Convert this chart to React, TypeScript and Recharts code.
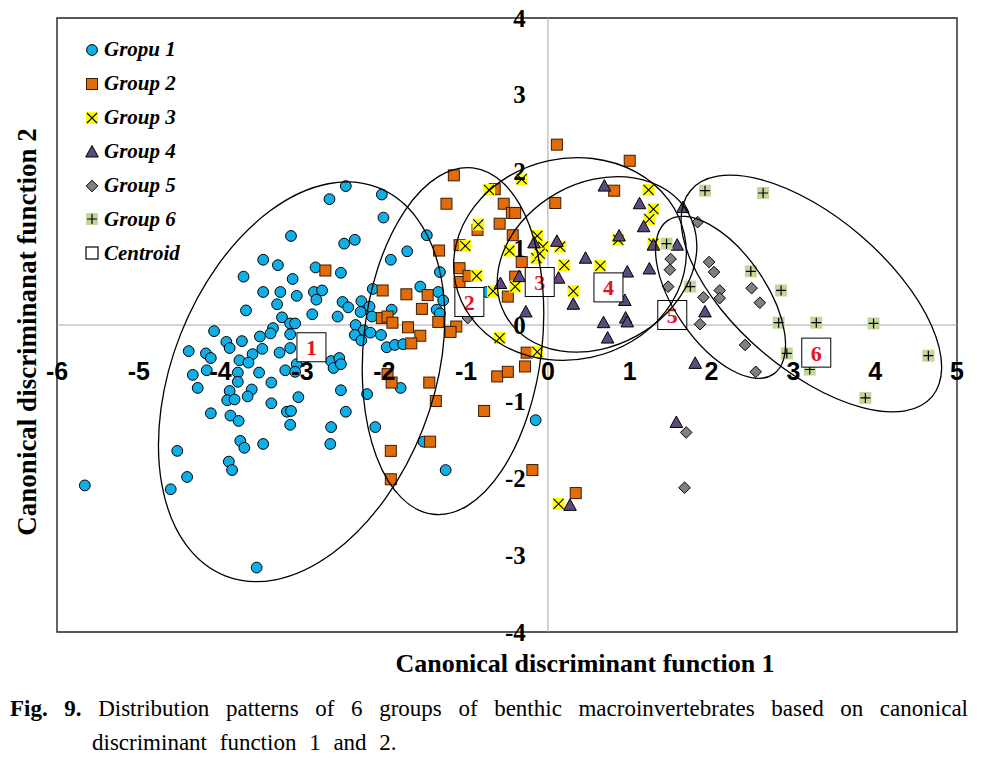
import { ScatterChart, Scatter, XAxis, YAxis, ReferenceLine, ReferenceArea } from "recharts";

// chart frame
const W = 986;
const CH = 700;
const AXIS_H = 30;
const AXIS_W = 30;
const M = { top: 18, right: 29, bottom: 68 - AXIS_H, left: 57 - AXIS_W };
const PLOT_LEFT = 57;
const PLOT_TOP = 18;
const PLOT_W = 900;
const PLOT_H = 614;
const X_MIN = -6, X_MAX = 5, Y_MIN = -4, Y_MAX = 4;
const PX_PER_X = PLOT_W / (X_MAX - X_MIN);

const xTicks = [-6, -5, -4, -3, -2, -1, 0, 1, 2, 3, 4, 5];
const yTicks = [-4, -3, -2, -1, 0, 1, 2, 3, 4];

const seriesNames = ["Gropu 1", "Group 2", "Group 3", "Group 4", "Group 5", "Group 6", "Centroid"];

// canonical scores
const group1: [number, number][] = [
  [-2.47, 1.81], [-2.67, 1.64], [-2.03, 1.70], [-2.01, 1.40], [-3.14, 1.16], [-2.49, 1.06], [-2.36, 1.11],
  [-3.48, 0.85], [-3.30, 0.78], [-2.84, 0.75], [-2.53, 0.68], [-3.72, 0.63], [-3.12, 0.60], [-3.48, 0.43],
  [-3.27, 0.43], [-3.07, 0.38], [-2.86, 0.43], [-2.76, 0.45], [-2.83, 0.33], [-3.31, 0.27], [-3.69, 0.19],
  [-2.88, 0.14], [-2.51, 0.30], [-2.44, 0.23], [-2.57, 0.11], [-2.28, 0.31], [-2.18, 0.24], [-2.29, 0.17],
  [-2.15, 0.11], [-3.25, 0.10], [-3.15, 0.02], [-3.09, 0.02], [-3.36, -0.04], [-3.39, -0.11], [-2.35, 0.00],
  [-2.25, -0.07], [-2.17, -0.10], [-2.36, -0.13], [-2.28, -0.20], [-2.04, -0.13], [-4.08, -0.08], [-3.93, -0.22],
  [-3.89, -0.30], [-3.74, -0.21], [-3.52, -0.15], [-3.15, -0.12], [-3.49, -0.31], [-3.61, -0.38], [-3.28, -0.36],
  [-3.15, -0.30], [-4.39, -0.34], [-4.18, -0.37], [-4.12, -0.43], [-3.77, -0.46], [-3.66, -0.49], [-3.07, -0.51],
  [-2.65, -0.47], [-2.55, -0.43], [-2.62, -0.56], [-2.53, -0.51], [-4.34, -0.65], [-4.28, -0.82], [-4.17, -0.59],
  [-3.79, -0.62], [-3.79, -0.74], [-3.53, -0.62], [-3.21, -0.59], [-3.09, -0.61], [-3.38, -0.75], [-2.53, -0.85],
  [-2.21, -0.90], [-3.89, -0.86], [-3.92, -0.98], [-3.83, -0.97], [-3.62, -0.84], [-3.67, -0.93], [-3.05, -0.94],
  [-3.38, -1.02], [-4.12, -1.15], [-3.88, -1.18], [-3.78, -1.25], [-3.19, -1.13], [-3.14, -1.12], [-2.47, -1.13],
  [-3.15, -1.30], [-2.65, -1.33], [-2.11, -1.33], [-2.66, -1.55], [-3.76, -1.51], [-3.71, -1.60], [-3.48, -1.55],
  [-3.90, -1.78], [-3.86, -1.89], [-4.53, -1.64], [-4.41, -1.98], [-4.61, -2.14], [-5.66, -2.09], [-3.56, -3.16],
  [-1.48, 1.17], [-1.72, 0.96], [-1.92, 0.85], [-1.32, 0.69], [-2.14, 0.47], [-1.56, 0.50], [-1.34, 0.43],
  [-1.28, 0.32], [-1.36, 0.20], [-1.32, 0.15], [-1.91, 0.20], [-1.97, -0.29], [-1.87, -0.26], [-1.77, -0.25],
  [-1.80, -0.82], [-1.52, -1.52], [-1.25, -1.89], [-0.15, -1.24], [-0.75, 0.43],
];

const group2: [number, number][] = [
  [-2.72, 0.71], [-2.02, 0.45], [-2.03, 0.09], [-1.15, 1.95], [-1.24, 1.58], [-1.33, 0.97], [-1.08, 1.04],
  [-1.73, 0.40], [-1.47, 0.39], [-1.54, 0.21], [-1.96, 0.11], [-1.90, 0.03], [-1.71, -0.03], [-1.56, -0.14],
  [-1.67, -0.24], [-1.34, 0.04], [-1.12, -0.02], [-1.19, -0.09], [-1.08, 0.74], [-1.08, 0.56], [-0.97, 0.64],
  [-0.65, 1.77], [-0.54, 1.58], [-0.44, 1.46], [-0.40, 1.46], [-0.59, 1.32], [-0.43, 1.17], [-0.32, 0.82],
  [-0.40, 0.63], [-0.49, 0.37], [0.11, 2.35], [1.00, 2.14], [0.09, 1.59], [0.81, 1.75], [-0.86, 1.24],
  [-0.26, -0.36], [-1.96, -0.64], [-1.91, -0.75], [-1.45, -0.75], [-1.37, -0.99], [-0.78, -1.12], [-0.62, -0.67],
  [-0.49, -0.61], [-0.28, -0.54], [-1.44, -1.52], [-1.92, -1.64], [-1.92, -2.01], [-0.19, -1.89], [0.34, -2.19],
];

const group3: [number, number][] = [
  [-0.72, 1.76], [-0.32, 1.90], [-0.85, 1.31], [-1.01, 1.03], [-0.87, 0.64], [-0.67, 0.44], [-0.40, 0.50],
  [-0.47, 0.97], [-0.13, 1.16], [-0.06, 1.02], [-0.14, 0.87], [-0.10, 0.93], [0.15, 1.02], [0.20, 0.78],
  [0.31, 0.44], [0.64, 0.77], [0.86, 1.11], [1.23, 1.76], [1.29, 1.51], [1.24, 1.38], [1.29, 1.06],
  [-0.59, -0.17], [-0.13, -0.35], [0.13, -2.33],
];

const group4: [number, number][] = [
  [0.69, 1.81], [1.12, 1.58], [1.17, 1.28], [0.87, 1.16], [1.29, 1.04], [1.58, 1.04], [1.65, 1.53],
  [0.46, 0.87], [1.24, 0.73], [0.97, 0.69], [0.94, 0.32], [0.95, 0.09], [0.97, 0.04], [0.68, 0.03],
  [0.73, -0.17], [0.31, 0.27], [0.13, 0.61], [0.11, 1.09], [-0.17, 1.07], [-0.35, 0.63], [-0.58, 0.54],
  [-0.27, 0.17], [1.92, 0.17], [1.80, -0.50], [1.57, -1.27], [0.27, -2.35],
];

const group5: [number, number][] = [
  [1.83, 1.34], [1.50, 0.86], [1.49, 0.72], [1.47, 0.50], [1.97, 0.82], [2.03, 0.69], [1.90, 0.36],
  [2.10, 0.45], [2.10, 0.35], [1.86, 0.01], [2.49, 0.48], [2.59, 0.29], [2.41, -0.26], [2.54, -0.61],
  [1.69, -1.40], [1.67, -2.12], [-0.98, 0.09],
];

const group6: [number, number][] = [
  [1.92, 1.75], [2.63, 1.72], [1.45, 1.06], [1.74, 0.50], [2.48, 0.70], [2.85, 0.45], [2.82, 0.03],
  [3.28, 0.03], [3.98, 0.02], [2.92, -0.37], [3.20, -0.58], [4.65, -0.40], [3.88, -0.95],
];

const centroidLabels = ["1", "2", "3", "4", "5", "6"];
const centroidX = [-2.89, -0.96, -0.10, 0.74, 1.52, 3.28];
const centroidY = [-0.29, 0.30, 0.56, 0.49, 0.13, -0.36];

// group ellipses: centre, half-axes (in x units), rotation in degrees
const ellipseX = [-3.01, -1.16, 0.27, 0.60, 2.11, 3.22];
const ellipseY = [-0.74, -0.21, 0.86, 0.79, 0.36, 0.41];
const ellipseRx = [1.59, 1.09, 1.43, 1.28, 0.56, 1.94];
const ellipseRy = [2.55, 2.13, 1.23, 1.0, 1.14, 0.93];
const ellipseAngle = [21.5, 6.5, -12, -29, -34.6, 40.6];

const toPts = (arr: [number, number][]) => arr.map(([x, y]) => ({ x, y }));
const centroids = centroidLabels.map((label, i) => ({ x: centroidX[i], y: centroidY[i], label }));
const ellipses = ellipseX.map((x, i) => ({
  x, y: ellipseY[i], rx: ellipseRx[i], ry: ellipseRy[i], angle: ellipseAngle[i],
}));

const yPix = (v: number) => PLOT_TOP + ((Y_MAX - v) / (Y_MAX - Y_MIN)) * PLOT_H;
const xPix = (v: number) => PLOT_LEFT + ((v - X_MIN) / (X_MAX - X_MIN)) * PLOT_W;

const SERIF = '"Liberation Serif", "Times New Roman", serif';
const SANS = '"Liberation Sans", Arial, sans-serif';

const BLUE = "#10aee6";
const ORANGE = "#e36c0a";
const YELLOW = "#ffff00";
const PURPLE = "#5d4a7c";
const GREY = "#808080";
const GREEN = "#c3d69b";

function CircleMark({ cx, cy }: any) {
  return <circle cx={cx} cy={cy} r={5.4} fill={BLUE} stroke="#000" strokeWidth={1} />;
}
function SquareMark({ cx, cy }: any) {
  return <rect x={cx - 5.5} y={cy - 5.5} width={11} height={11} fill={ORANGE} stroke="#3a1d00" strokeWidth={1} />;
}
function CrossMark({ cx, cy }: any) {
  return (
    <g>
      <rect x={cx - 6} y={cy - 6} width={12} height={12} fill={YELLOW} />
      <path d={`M${cx - 5},${cy - 5}L${cx + 5},${cy + 5}M${cx + 5},${cy - 5}L${cx - 5},${cy + 5}`} stroke="#000" strokeWidth={1.1} />
    </g>
  );
}
function TriMark({ cx, cy }: any) {
  return <path d={`M${cx},${cy - 6.5}L${cx + 6.3},${cy + 5}L${cx - 6.3},${cy + 5}Z`} fill={PURPLE} stroke="#000" strokeWidth={1} />;
}
function DiamondMark({ cx, cy }: any) {
  return <path d={`M${cx},${cy - 5.8}L${cx + 5.8},${cy}L${cx},${cy + 5.8}L${cx - 5.8},${cy}Z`} fill={GREY} stroke="#000" strokeWidth={1} />;
}
function PlusMark({ cx, cy }: any) {
  return (
    <g>
      <rect x={cx - 6} y={cy - 6} width={12} height={12} fill={GREEN} />
      <path d={`M${cx - 5},${cy}L${cx + 5},${cy}M${cx},${cy - 5}L${cx},${cy + 5}`} stroke="#000" strokeWidth={1.2} />
    </g>
  );
}
function CentroidMark({ cx, cy, payload }: any) {
  return (
    <g>
      <rect x={cx - 14.5} y={cy - 14.5} width={29} height={29} fill="#fff" stroke="#000" strokeWidth={1} />
      <text x={cx} y={cy + 8} textAnchor="middle" fontFamily={SERIF} fontWeight="bold" fontSize={22} fill="#e5131b">
        {payload.label}
      </text>
    </g>
  );
}
function EllipseMark({ cx, cy, payload }: any) {
  return (
    <ellipse
      cx={cx}
      cy={cy}
      rx={payload.rx * PX_PER_X}
      ry={payload.ry * PX_PER_X}
      transform={`rotate(${payload.angle} ${cx} ${cy})`}
      fill="none"
      stroke="#000"
      strokeWidth={1.3}
    />
  );
}

// tick labels sit next to the zero lines, like the original figure
function XTick({ x, payload }: any) {
  return (
    <text x={x} y={yPix(-0.6)} textAnchor="middle" dominantBaseline="central" fontFamily={SANS} fontWeight="bold" fontSize={25} fill="#000">
      {payload.value}
    </text>
  );
}
function YTick({ y, payload }: any) {
  return (
    <text x={xPix(-0.27)} y={y} textAnchor="end" dominantBaseline="central" fontFamily={SERIF} fontWeight="bold" fontSize={25} fill="#000">
      {payload.value}
    </text>
  );
}

const legendMarks = [CircleMark, SquareMark, CrossMark, TriMark, DiamondMark, PlusMark];

function LegendBox() {
  return (
    <div style={{ position: "absolute", left: 84, top: 33 }}>
      {seriesNames.map((name, i) => {
        const Mark = legendMarks[i];
        return (
          <div key={name} style={{ display: "flex", alignItems: "center", height: 33.9 }}>
            <svg width={16} height={16} style={{ marginRight: 4 }}>
              {Mark ? <Mark cx={8} cy={8} /> : <rect x={2} y={2} width={12} height={12} fill="#fff" stroke="#000" strokeWidth={1.2} />}
            </svg>
            <span style={{ fontFamily: SERIF, fontStyle: "italic", fontWeight: "bold", fontSize: 21, color: "#000" }}>{name}</span>
          </div>
        );
      })}
    </div>
  );
}

export default function App() {
  return (
    <div style={{ position: "absolute", left: 0, top: 0, width: 986, height: 757, background: "#fff" }}>
      <ScatterChart width={W} height={CH} margin={M}>
        <ReferenceArea x1={X_MIN} x2={X_MAX} y1={Y_MIN} y2={Y_MAX} fill="none" stroke="#222" strokeWidth={1.4} fillOpacity={0} />
        <ReferenceLine x={0} stroke="#a6a6a6" strokeWidth={1} />
        <ReferenceLine y={0} stroke="#a6a6a6" strokeWidth={1} />
        <XAxis type="number" dataKey="x" domain={[X_MIN, X_MAX]} ticks={xTicks} interval={0} axisLine={false} tickLine={false} height={AXIS_H} tick={<XTick />} />
        <YAxis type="number" dataKey="y" domain={[Y_MIN, Y_MAX]} ticks={yTicks} interval={0} axisLine={false} tickLine={false} width={AXIS_W} tick={<YTick />} />
        <Scatter name={seriesNames[0]} data={toPts(group1)} shape={<CircleMark />} isAnimationActive={false} />
        <Scatter name={seriesNames[1]} data={toPts(group2)} shape={<SquareMark />} isAnimationActive={false} />
        <Scatter name={seriesNames[2]} data={toPts(group3)} shape={<CrossMark />} isAnimationActive={false} />
        <Scatter name={seriesNames[3]} data={toPts(group4)} shape={<TriMark />} isAnimationActive={false} />
        <Scatter name={seriesNames[4]} data={toPts(group5)} shape={<DiamondMark />} isAnimationActive={false} />
        <Scatter name={seriesNames[5]} data={toPts(group6)} shape={<PlusMark />} isAnimationActive={false} />
        <Scatter name={seriesNames[6]} data={centroids} shape={<CentroidMark />} isAnimationActive={false} />
        <Scatter name="ellipses" data={ellipses} shape={<EllipseMark />} isAnimationActive={false} />
      </ScatterChart>

      <LegendBox />

      <div style={{ position: "absolute", left: 585, top: 664, transform: "translate(-50%, -50%)", whiteSpace: "nowrap", fontFamily: SERIF, fontWeight: "bold", fontSize: 26 }}>
        Canonical discriminant function 1
      </div>
      <div style={{ position: "absolute", left: 27, top: 332, transform: "translate(-50%, -50%) rotate(-90deg)", whiteSpace: "nowrap", fontFamily: SERIF, fontWeight: "bold", fontSize: 27 }}>
        Canonical discriminanat function 2
      </div>

      <div style={{ position: "absolute", left: 10, top: 692, width: 958, fontFamily: SERIF, fontSize: 23, lineHeight: "34px", color: "#000" }}>
        <div style={{ textAlign: "justify", textAlignLast: "justify", whiteSpace: "nowrap" }}>
          <b>Fig. 9.</b> Distribution patterns of 6 groups of benthic macroinvertebrates based on canonical
        </div>
        <div style={{ paddingLeft: 82, wordSpacing: 7 }}>discriminant function 1 and 2.</div>
      </div>
    </div>
  );
}
